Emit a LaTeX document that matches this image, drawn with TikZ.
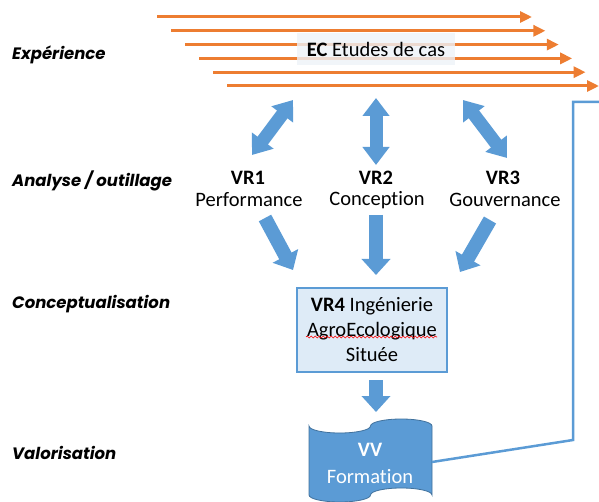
\documentclass[tikz,border=0pt]{standalone}
\usepackage{fontspec}
\setmainfont{Carlito}[Ligatures=NoCommon]
\newfontfamily\stagefont{Poppins}
\usetikzlibrary{arrows.meta,decorations.pathmorphing}
\definecolor{caseorange}{HTML}{ED7D31}
\definecolor{vrblue}{HTML}{5B9BD5}
\definecolor{vrdark}{HTML}{41719C}
\definecolor{vrlight}{HTML}{DEEBF7}
\definecolor{ecback}{HTML}{EEF2F8}
\tikzset{
  stage/.style={anchor=west, inner sep=0pt, font=\stagefont\fontsize{16.5}{18}\selectfont\bfseries\itshape},
  vrtext/.style={inner sep=0pt, font=\fontsize{20.5}{24}\selectfont},
  vrhead/.style={inner sep=0pt, font=\fontsize{20.5}{24}\selectfont\bfseries},
  casearrow/.style={caseorange, line width=3pt, -{Triangle[length=12pt,width=11pt]}},
  blockarrow/.style={vrblue, line width=14pt, -{Triangle[length=16pt,width=28pt]}},
  twoway/.style={vrblue, line width=13pt, {Triangle[length=18pt,width=26pt]}-{Triangle[length=18pt,width=26pt]}},
}

\begin{document}
\begin{tikzpicture}[x=1pt,y=-1pt]
  \useasboundingbox (0,0) rectangle (599,502);

  \foreach \k in {0,...,5}
    \draw[casearrow] (157+14*\k,17+13.8*\k) -- (532+13.4*\k,17+13.8*\k);
  \node[vrtext, fill=ecback, fill opacity=0.8, text opacity=1, minimum width=158pt, minimum height=32pt] (ec) at (376,49) {\textbf{EC} Etudes de cas};

  \node[stage] (exp) at (12,55) {Expérience};
  \node[stage] (ana) at (12,181) {Analyse / outillage};
  \node[stage] (con) at (12,304) {Conceptualisation};
  \node[stage] (val) at (12,453) {Valorisation};

  \node[vrhead] (vr1) at (248,178) {VR1};
  \node[vrtext] (perf) at (249,200) {Performance};
  \node[vrhead] (vr2) at (376,178) {VR2};
  \node[vrtext] (conc) at (377,200) {Conception};
  \node[vrhead] (vr3) at (503,178) {VR3};
  \node[vrtext] (gouv) at (505,200) {Gouvernance};

  \coordinate (ua) at (293,100);  \coordinate (ub) at (252,155);
  \coordinate (ma) at (376,98);   \coordinate (mb) at (376,165);
  \coordinate (wa) at (463,100);  \coordinate (wb) at (507,158);
  \draw[twoway] (ua) -- (ub);
  \draw[twoway] (ma) -- (mb);
  \draw[twoway] (wa) -- (wb);

  \coordinate (la) at (265,218);  \coordinate (lb) at (293,270);
  \coordinate (ca) at (376,215);  \coordinate (cb) at (376,275);
  \coordinate (ra) at (490,220);  \coordinate (rb) at (460,272);
  \draw[blockarrow] (la) -- (lb);
  \draw[blockarrow] (ca) -- (cb);
  \draw[blockarrow] (ra) -- (rb);

  \node[draw=vrblue, fill=vrlight, line width=1.2pt, minimum width=150pt, minimum height=84pt, align=center, font=\fontsize{20.5}{25}\selectfont] (vr4) at (372,330) {\textbf{VR4} Ingénierie\\AgroEcologique\\Située};
  \draw[red, line width=0.6pt, decorate, decoration={snake,amplitude=1pt,segment length=4pt}] (306,337) -- (437,337);

  \coordinate (da) at (376,380);  \coordinate (db) at (376,412);
  \draw[blockarrow] (da) -- (db);

  \draw[vrdark, fill=vrblue, line width=0.8pt] (309,426)
        arc[start angle=180, end angle=360, x radius=30.75pt, y radius=7pt]
        arc[start angle=180, end angle=0, x radius=30.75pt, y radius=7pt]
        -- (432,495)
        arc[start angle=0, end angle=180, x radius=30.75pt, y radius=7pt]
        arc[start angle=0, end angle=-180, x radius=30.75pt, y radius=7pt]
        -- cycle;
  \node[vrhead, text=white] (vv) at (370,450) {VV};
  \node[vrtext, text=white] (form) at (370,477) {Formation};

  \coordinate (vvout) at (432,462);
  \coordinate (turn) at (573,440);
  \coordinate (up) at (573,102);
  \coordinate (back) at (599,102);
  \draw[vrblue, line width=2.5pt] (vvout) -- (turn) -- (up) -- (back);
\end{tikzpicture}
\end{document}
